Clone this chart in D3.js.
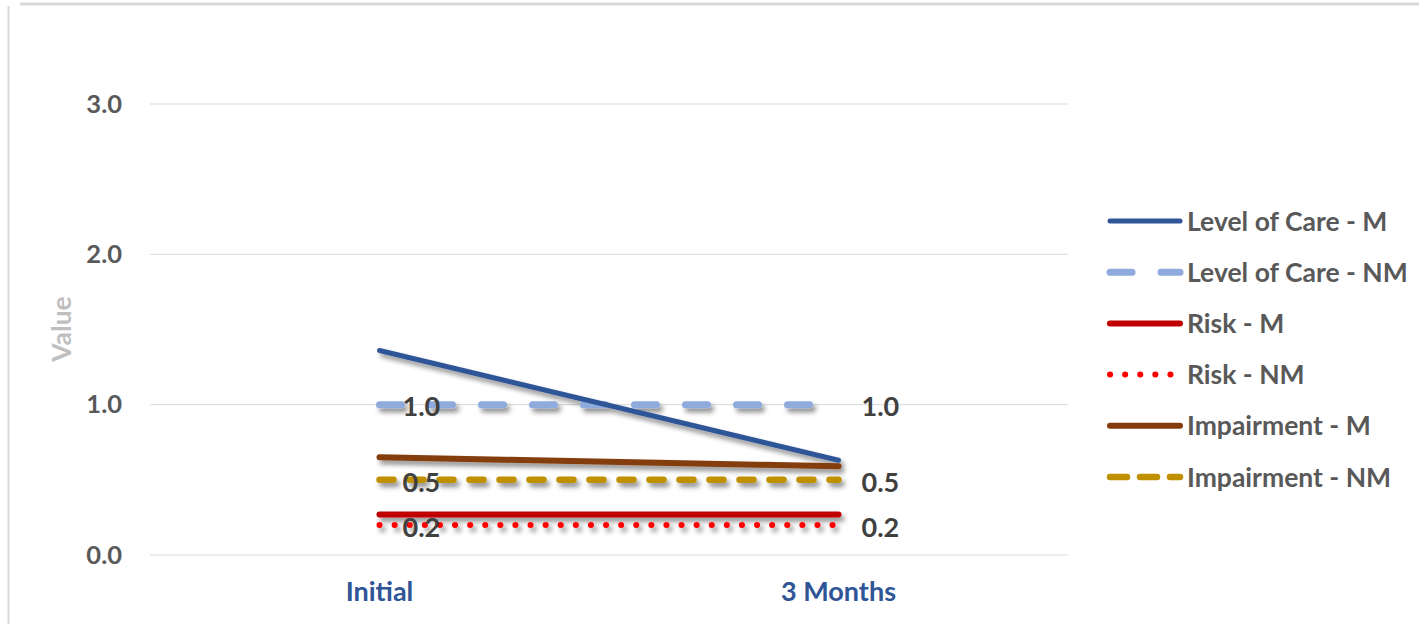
<!DOCTYPE html>
<html>
<head>
<meta charset="utf-8">
<script src="https://cdn.jsdelivr.net/npm/d3@7"></script>
<style>
  html, body { margin: 0; padding: 0; background: #fff; }
  svg { display: block; font-family: Lato, "Open Sans", sans-serif; }
</style>
</head>
<body>
<svg id="chart" width="1419" height="624"></svg>
<script>
// Categories along the x axis
const categories = ["Initial", "3 Months"];

// Series values, one per category
const levelOfCareM  = [1.36, 0.63];
const levelOfCareNM = [1.0, 1.0];
const riskM         = [0.27, 0.27];
const riskNM        = [0.2, 0.2];
const impairmentM   = [0.65, 0.59];
const impairmentNM  = [0.5, 0.5];

const seriesNames = ["Level of Care - M", "Level of Care - NM", "Risk - M", "Risk - NM", "Impairment - M", "Impairment - NM"];

// Y axis ticks
const yTicks = [0, 1, 2, 3];

const series = [
  { name: seriesNames[0], values: levelOfCareM,  color: "#2F5597", width: 5,   dash: null,     labels: false },
  { name: seriesNames[1], values: levelOfCareNM, color: "#8FAADC", width: 7,   dash: "22 29",  labels: true },
  { name: seriesNames[2], values: riskM,         color: "#C00000", width: 6,   dash: null,     labels: false },
  { name: seriesNames[3], values: riskNM,        color: "#FF0000", width: 6,   dash: "0.1 15", labels: true },
  { name: seriesNames[4], values: impairmentM,   color: "#843C0C", width: 6,   dash: null,     labels: false },
  { name: seriesNames[5], values: impairmentNM,  color: "#BF9000", width: 6.5, dash: "14 16",  labels: true }
];

const svg = d3.select("#chart");

// Chart area frame
svg.append("line").attr("x1", 20).attr("x2", 1419).attr("y1", 4).attr("y2", 4)
  .attr("stroke", "#d9d9d9").attr("stroke-width", 3);
svg.append("line").attr("x1", 8.5).attr("x2", 8.5).attr("y1", 6).attr("y2", 624)
  .attr("stroke", "#d9d9d9").attr("stroke-width", 2);

// Soft shadow under the series lines
const defs = svg.append("defs");
const f = defs.append("filter").attr("id", "shadow")
  .attr("x", 0).attr("y", 0).attr("width", 1419).attr("height", 624)
  .attr("filterUnits", "userSpaceOnUse");
f.append("feDropShadow").attr("dx", 3).attr("dy", 4).attr("stdDeviation", 2.5)
  .attr("flood-color", "#000").attr("flood-opacity", 0.45);

const plot = { left: 150, right: 1068, top: 104, bottom: 555 };

const x = d3.scaleBand().domain(categories).range([plot.left, plot.right]);
const y = d3.scaleLinear().domain([0, 3]).range([plot.bottom, plot.top]);
const cx = c => x(c) + x.bandwidth() / 2;

// Gridlines
svg.append("g").selectAll("line").data(yTicks).join("line")
  .attr("x1", plot.left).attr("x2", plot.right)
  .attr("y1", d => y(d)).attr("y2", d => y(d))
  .attr("stroke", "#d9d9d9").attr("stroke-width", 1);

// Y axis labels
const yAxis = svg.append("g").attr("transform", `translate(${plot.left},0)`)
  .call(d3.axisLeft(y).tickValues(yTicks).tickFormat(d3.format(".1f")).tickSize(0).tickPadding(28));
yAxis.select(".domain").remove();
yAxis.selectAll("text").attr("font-size", 25.5).attr("font-weight", "bold").attr("fill", "#595959")
  .attr("font-family", "Lato, sans-serif");

// X axis labels
const xAxis = svg.append("g").attr("transform", `translate(0,${plot.bottom})`)
  .call(d3.axisBottom(x).tickSize(0).tickPadding(27));
xAxis.select(".domain").remove();
xAxis.selectAll("text").attr("font-size", 27).attr("font-weight", "bold").attr("fill", "#2F5597")
  .attr("font-family", "Lato, sans-serif");

// Axis title
svg.append("text").attr("transform", "translate(71,329) rotate(-90)")
  .attr("text-anchor", "middle").attr("font-size", 26.5).attr("font-weight", "bold")
  .attr("fill", "#BFBFBF").text("Value");

// Lines
const line = d3.line().x((d, i) => cx(categories[i])).y(d => y(d));
const order = [5, 4, 3, 2, 1, 0];
svg.append("g").attr("filter", "url(#shadow)").selectAll("path").data(order.map(i => series[i])).join("path")
  .attr("d", d => line(d.values))
  .attr("fill", "none")
  .attr("stroke", d => d.color)
  .attr("stroke-width", d => d.width)
  .attr("stroke-linecap", "round")
  .attr("stroke-dasharray", d => d.dash);

// Data labels for the NM series
const fmt = d3.format(".1f");
const labelData = [];
series.filter(s => s.labels).forEach(s => s.values.forEach((v, i) => labelData.push({ v, c: categories[i] })));
svg.append("g").selectAll("text").data(labelData).join("text")
  .attr("x", d => cx(d.c) + 23).attr("y", d => y(d.v) + 2)
  .attr("dy", "0.36em").attr("font-size", 27).attr("font-weight", "bold").attr("fill", "#404040")
  .text(d => fmt(d.v));

// Legend
const legend = svg.append("g").selectAll("g").data(series).join("g")
  .attr("transform", (d, i) => `translate(1110,${221 + i * 51.2})`);
legend.append("line").attr("x1", 0).attr("x2", d => d.dash === "0.1 15" ? 66 : 70).attr("y1", 0).attr("y2", 0)
  .attr("stroke", d => d.color).attr("stroke-width", d => d.width)
  .attr("stroke-linecap", "round")
  .attr("stroke-dasharray", (d, i) => i === 1 ? "22 29" : i === 5 ? "17 13" : d.dash);
legend.append("text").attr("x", 77).attr("dy", "0.36em")
  .attr("font-size", 26.5).attr("font-weight", "bold").attr("fill", "#595959")
  .text(d => d.name);
</script>
</body>
</html>
